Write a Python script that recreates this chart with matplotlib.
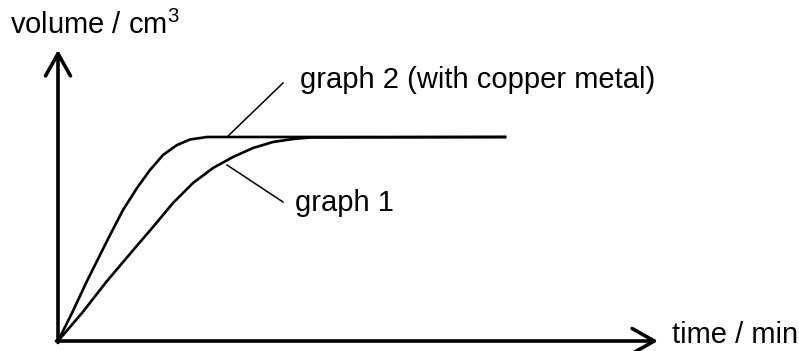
import numpy as np
import matplotlib
matplotlib.use("Agg")
import matplotlib.pyplot as plt

plt.rcParams['font.family'] = ['Liberation Sans', 'DejaVu Sans']
plt.rcParams['mathtext.fontset'] = 'custom'
plt.rcParams['mathtext.rm'] = 'Liberation Sans'

# values (arbitrary units, origin at 0,0)
time_g1 = [0, 24, 49, 77, 95, 115, 135, 155, 175, 195, 215, 235, 252, 447]
vol_g1 = [0, 28, 60, 93, 114, 138, 158, 173, 184, 193, 199, 202, 203.5, 204]

time_g2 = [0, 14, 29, 51, 65, 79, 92, 105, 119, 132, 149, 447]
vol_g2 = [0, 28, 60, 104, 131, 153, 171, 186, 196, 201.5, 204, 204]

x_label = "time / min"
y_label = r"volume / cm$^\mathregular{3}$"
label_g1 = "graph 1"
label_g2 = "graph 2 (with copper metal)"

fig = plt.figure(figsize=(7.99, 3.51), dpi=100)
ax = fig.add_axes([0, 0, 1, 1])
ax.set_xlim(-58, 741)
ax.set_ylim(-10, 341)
ax.axis('off')

# axes with open arrow heads
arrow = dict(arrowstyle='->,head_length=0.8,head_width=0.45', lw=2.6,
             color='black', mutation_scale=20, shrinkA=0, shrinkB=0)
ax.annotate('', xy=(0, 291), xytext=(0, -1.5), arrowprops=arrow)
ax.annotate('', xy=(600, 0), xytext=(-1.5, 0), arrowprops=arrow)

ax.plot(time_g1, vol_g1, color='black', lw=1.9, solid_joinstyle='round')
ax.plot(time_g2, vol_g2, color='black', lw=1.9, solid_joinstyle='round')

# leader lines to labels
ax.plot([169, 225], [204, 258], color='black', lw=1.1)
ax.plot([169, 225], [176, 139], color='black', lw=1.1)

ax.text(242, 261, label_g2, fontsize=21, va='center', ha='left')
ax.text(237, 138, label_g1, fontsize=21, va='center', ha='left')
ax.text(-48, 316, y_label, fontsize=21, va='center', ha='left')
ax.text(614, 6, x_label, fontsize=21, va='center', ha='left')

fig.savefig('out.png', dpi=100)
